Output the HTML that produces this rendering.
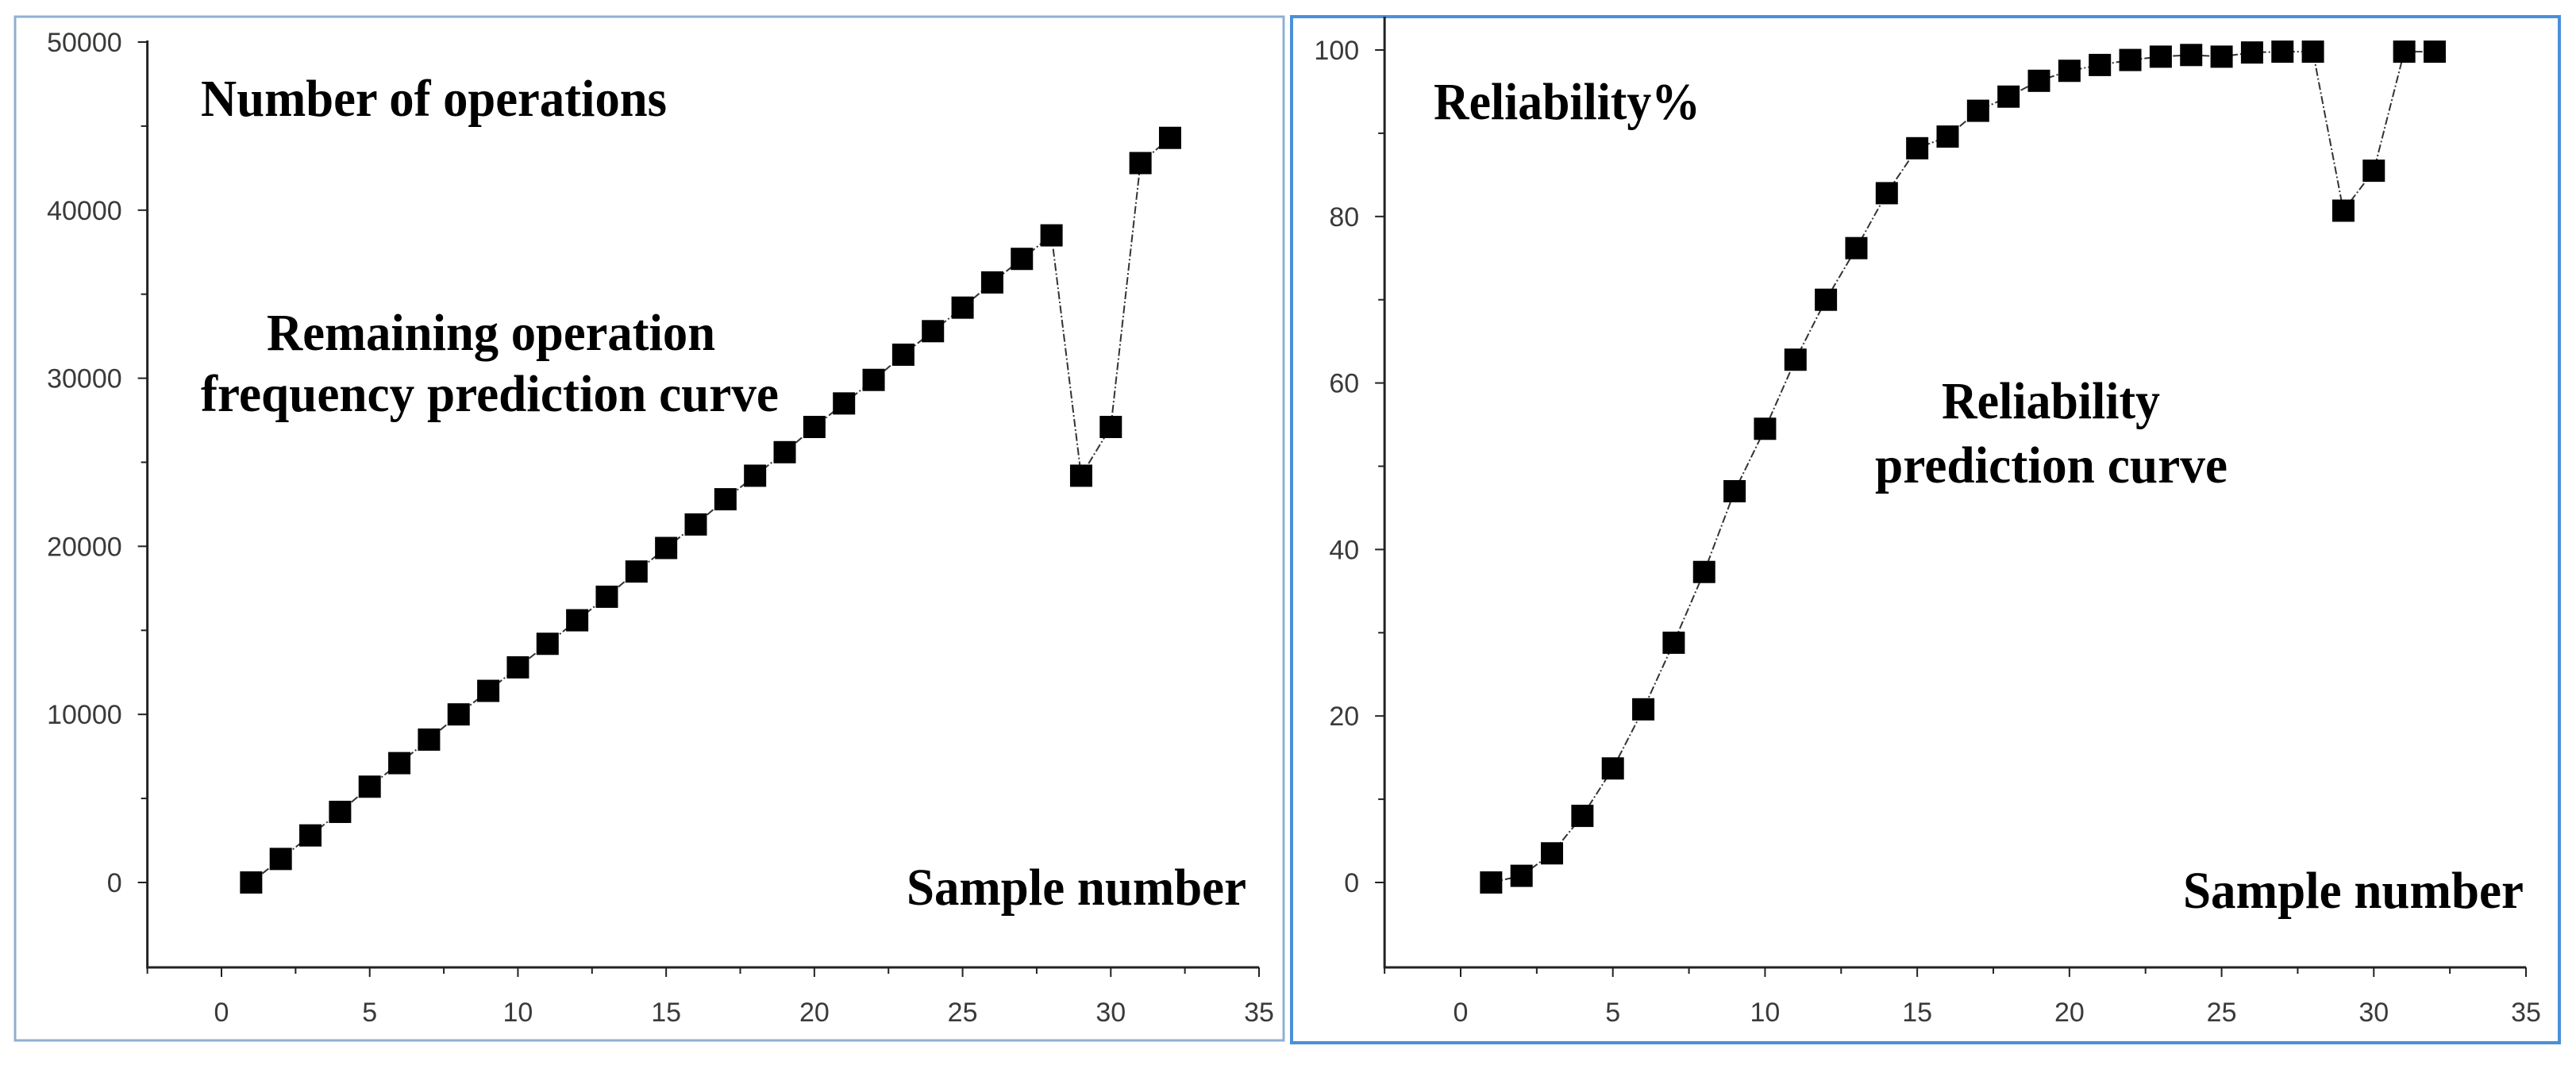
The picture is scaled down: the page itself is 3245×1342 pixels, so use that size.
<!DOCTYPE html>
<html><head><meta charset="utf-8"><style>
html,body{margin:0;padding:0;background:#fff;}
svg{display:block;}
.tick{font-family:"Liberation Sans",sans-serif;font-size:34px;fill:#3a3a3a;}
.ann{font-family:"Liberation Serif",serif;font-weight:bold;font-size:66px;fill:#000;}
</style></head><body>
<svg id="svg" width="3245" height="1342" viewBox="0 0 3245 1342">
<rect x="19" y="21" width="1598" height="1290" fill="none" stroke="#8fb0d0" stroke-width="3"/>
<rect x="1627" y="21" width="1597" height="1293" fill="none" stroke="#4a90d9" stroke-width="4"/>
<g id="left"></g>
<g id="right"></g>
<text class="ann" x="253" y="146" textLength="587" lengthAdjust="spacingAndGlyphs">Number of operations</text>
<text class="ann" x="336" y="441" textLength="565" lengthAdjust="spacingAndGlyphs">Remaining operation</text>
<text class="ann" x="253" y="518" textLength="728" lengthAdjust="spacingAndGlyphs">frequency prediction curve</text>
<text class="ann" x="1142" y="1140" textLength="428" lengthAdjust="spacingAndGlyphs">Sample number</text>
<text class="ann" x="1806" y="150" textLength="336" lengthAdjust="spacingAndGlyphs">Reliability%</text>
<text class="ann" x="2446" y="527" textLength="275" lengthAdjust="spacingAndGlyphs">Reliability</text>
<text class="ann" x="2362" y="608" textLength="444" lengthAdjust="spacingAndGlyphs">prediction curve</text>
<text class="ann" x="2750" y="1144" textLength="429" lengthAdjust="spacingAndGlyphs">Sample number</text>
</svg>
<script>
const samples = [1,2,3,4,5,6,7,8,9,10,11,12,13,14,15,16,17,18,19,20,21,22,23,24,25,26,27,28,29,30,31,32];
const operations = [0,1400,2800,4200,5700,7100,8500,10000,11400,12800,14200,15600,17000,18500,19900,21300,22800,24200,25600,27100,28500,29900,31400,32800,34200,35700,37100,38500,24200,27100,42800,44300];
const reliability = [0,0.8,3.5,8,13.7,20.8,28.8,37.3,47,54.5,62.8,70,76.2,82.8,88.2,89.6,92.7,94.4,96.3,97.5,98.2,98.8,99.2,99.4,99.2,99.7,99.8,99.8,80.7,85.5,99.8,99.8];
const xTicks = [0,5,10,15,20,25,30,35];
const opTicks = [0,10000,20000,30000,40000,50000];
const relTicks = [0,20,40,60,80,100];
const NS='http://www.w3.org/2000/svg';
function mk(tag,attrs,parent){const e=document.createElementNS(NS,tag);for(const k in attrs)e.setAttribute(k,attrs[k]);parent.appendChild(e);return e;}
function chart(g,cfg,vals,yTicks,prefix){
  const X=v=>cfg.x0+(v-0)*(cfg.x35-cfg.x0)/35;
  const Y=v=>cfg.y0+(v-cfg.v0)*(cfg.yTop-cfg.y0)/(cfg.vTop-cfg.v0);
  const axL=X(-2.5), axR=X(35), axB=cfg.axB, axT=cfg.axT;
  const ax=mk('path',{d:`M${axL},${axT} V${axB} H${axR}`,fill:'none',stroke:'#222','stroke-width':3},g);
  
  
  for(let v=-2.5;v<=35.01;v+=2.5){
    const major=Math.abs(v%5)<1e-6;
    const t=mk('line',{x1:X(v),x2:X(v),y1:axB,y2:axB+(major?12:8),stroke:'#222','stroke-width':2},g);
    
    
  }
  xTicks.forEach(v=>{
    const t=mk('text',{x:X(v),y:axB+68,'text-anchor':'middle',class:'tick'},g);t.textContent=v;
    
    
  });
  const step=yTicks[1]-yTicks[0];
  for(let i=0;i<yTicks.length;i++){
    const v=yTicks[i];
    const t=mk('line',{x1:axL-12,x2:axL,y1:Y(v),y2:Y(v),stroke:'#222','stroke-width':2},g);
    
    
    if(i<yTicks.length-1){const m=mk('line',{x1:axL-8,x2:axL,y1:Y(v+step/2),y2:Y(v+step/2),stroke:'#222','stroke-width':2},g);
      
      }
    const l=mk('text',{x:axL-32,y:Y(v)+12,'text-anchor':'end',class:'tick'},g);l.textContent=v;
    
    
  }
  const d=samples.map((s,i)=>(i?'L':'M')+X(s)+','+Y(vals[i])).join(' ');
  const ln=mk('path',{d:d,fill:'none',stroke:'#333','stroke-width':2,'stroke-dasharray':'10 3 2 3'},g);
  
  
  samples.forEach((s,i)=>{
    const r=mk('rect',{x:X(s)-14,y:Y(vals[i])-14,width:28,height:28,fill:'#000'},g);
    
    
  });
}
chart(document.getElementById('left'),{x0:279,x35:1586,y0:1112,yTop:53,v0:0,vTop:50000,axB:1219,axT:51},operations,opTicks,'left');
chart(document.getElementById('right'),{x0:1840,x35:3182,y0:1112,yTop:63,v0:0,vTop:100,axB:1219,axT:21},reliability,relTicks,'right');
</script>
</body></html>
